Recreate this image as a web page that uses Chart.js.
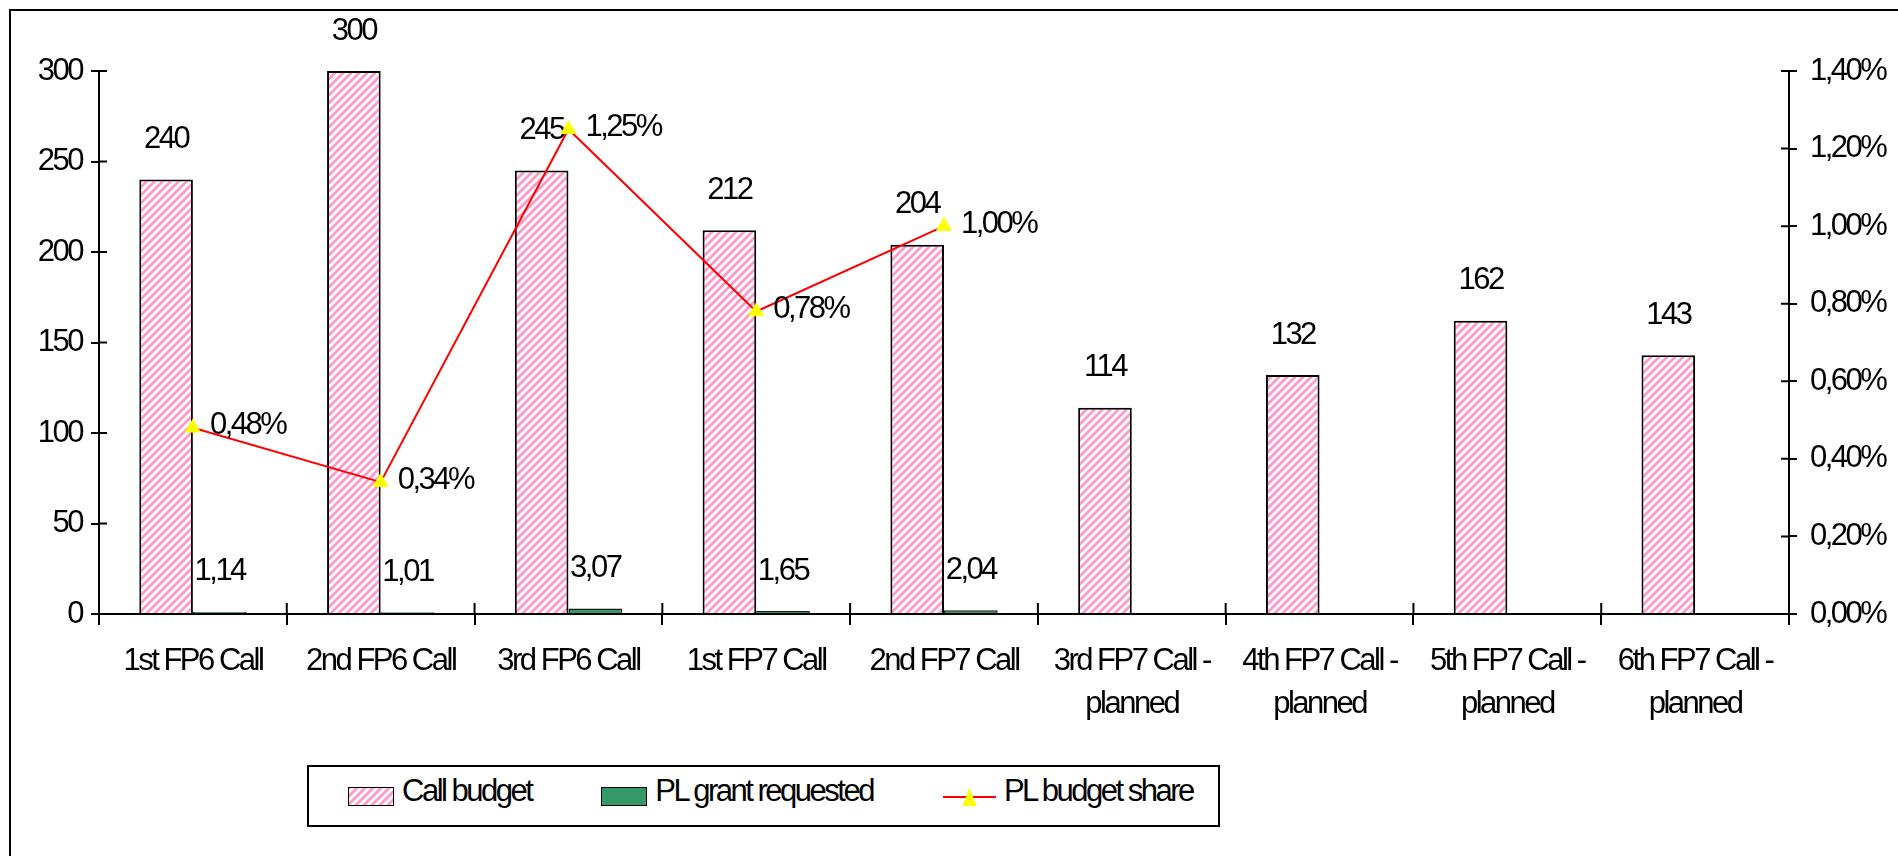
<!DOCTYPE html>
<html>
<head>
<meta charset="utf-8">
<title>Call budget and PL share</title>
<script src="https://cdn.jsdelivr.net/npm/chart.js@4/dist/chart.umd.min.js"></script>
<style>
  html, body { margin: 0; padding: 0; background: #fff; overflow: hidden; }
  #wrap { position: relative; width: 1898px; height: 856px; }
  #frame { position: absolute; left: 9px; top: 9px; width: 2000px; height: 1000px; border: 2px solid #000; }
  #chart { position: absolute; left: 0; top: 0; }
  #legend {
    position: absolute; left: 307px; top: 765px; width: 913px; height: 62px;
    box-sizing: border-box; border: 2px solid #000; background: #fff;
    display: flex; align-items: center; padding-left: 39px;
    font: 31px 'Liberation Sans', Arial, sans-serif; letter-spacing: -2.5px; color: #000;
  }
  .item { display: flex; align-items: center; margin-right: 70px; }
  .swatch { width: 46px; height: 19px; box-sizing: border-box; margin-right: 8px; }
  .swatch svg { display: block; }
  .item span { position: relative; top: -5px; white-space: nowrap; }
</style>
</head>
<body>
<div id="wrap">
  <div id="frame"></div>
  <canvas id="chart" width="1898" height="856"></canvas>
  <div id="legend"></div>
</div>
<script>
const categories = [
    '1st FP6 Call', '2nd FP6 Call', '3rd FP6 Call', '1st FP7 Call', '2nd FP7 Call',
    ['3rd FP7 Call -', 'planned'], ['4th FP7 Call -', 'planned'],
    ['5th FP7 Call -', 'planned'], ['6th FP7 Call -', 'planned']
];
const callBudget = [240, 300, 245, 212, 204, 114, 132, 162, 143];
const plGrantRequested = [1.14, 1.01, 3.07, 1.65, 2.04, null, null, null, null];
const plBudgetShare = [0.48, 0.34, 1.25, 0.78, 1.00, null, null, null, null];

const fontFamily = "'Liberation Sans', Arial, sans-serif";
const comma = (v, digits) => v.toFixed(digits).replace('.', ',');

// pink diagonal hatch used for the call budget bars
const tileSize = 8;
const tile = document.createElement('canvas');
tile.width = tileSize;
tile.height = tileSize;
const t = tile.getContext('2d');
t.fillStyle = '#ffffff';
t.fillRect(0, 0, tileSize, tileSize);
t.strokeStyle = '#ff99cc';
t.lineWidth = 2.8;
t.beginPath();
t.moveTo(-2, tileSize + 2); t.lineTo(tileSize + 2, -2);
t.moveTo(-2, 2); t.lineTo(2, -2);
t.moveTo(tileSize - 2, tileSize + 2); t.lineTo(tileSize + 2, tileSize - 2);
t.stroke();
const hatch = document.getElementById('chart').getContext('2d').createPattern(tile, 'repeat');

Chart.defaults.font.family = fontFamily;
Chart.defaults.font.size = 31;
Chart.defaults.color = '#000';

const tightText = {
    id: 'tightText',
    beforeUpdate(chart) { chart.ctx.letterSpacing = '-2.5px'; },
    beforeDraw(chart) { chart.ctx.letterSpacing = '-2.5px'; }
};

// tick marks cross the axes, chart.js only draws the outer half
const innerTicks = {
    id: 'innerTicks',
    beforeDatasetsDraw(chart) {
        const {ctx, chartArea, scales} = chart;
        ctx.save();
        ctx.strokeStyle = '#000';
        ctx.lineWidth = 2;
        ctx.beginPath();
        for (let i = 0; i <= categories.length; i++) {
            const px = scales.x.getPixelForValue(i - 0.5);
            ctx.moveTo(px, chartArea.bottom);
            ctx.lineTo(px, chartArea.bottom - 11);
        }
        scales.y.ticks.forEach(tk => {
            const py = scales.y.getPixelForValue(tk.value);
            ctx.moveTo(chartArea.left, py);
            ctx.lineTo(chartArea.left + 8, py);
        });
        scales.y1.ticks.forEach(tk => {
            const py = scales.y1.getPixelForValue(tk.value);
            ctx.moveTo(chartArea.right, py);
            ctx.lineTo(chartArea.right - 8, py);
        });
        ctx.stroke();
        ctx.restore();
    }
};

const drawLabels = (chart, wantLine) => {
    const ctx = chart.ctx;
    ctx.save();
    ctx.font = '31px ' + fontFamily;
    ctx.fillStyle = '#000';
    ctx.textBaseline = 'middle';
    chart.data.datasets.forEach((ds, di) => {
        if ((ds.type === 'line') !== wantLine) return;
        chart.getDatasetMeta(di).data.forEach((el, i) => {
            const v = ds.data[i];
            if (v === null) return;
            if (wantLine) {
                ctx.textAlign = 'left';
                ctx.fillText(comma(v, 2) + '%', el.x + 17, el.y - 2);
            } else {
                ctx.textAlign = 'center';
                ctx.fillText(ds.valueText(v), el.x, el.y - 40);
            }
        });
    });
    ctx.restore();
};

const valueLabels = {
    id: 'valueLabels',
    beforeDatasetsDraw(chart) { drawLabels(chart, false); },
    afterDatasetsDraw(chart) { drawLabels(chart, true); }
};

const chart = new Chart('chart', {
    data: {
        labels: categories,
        datasets: [
            {
                type: 'bar',
                label: 'Call budget',
                data: callBudget,
                valueText: v => String(v),
                backgroundColor: hatch,
                borderColor: '#000',
                borderWidth: 2,
                yAxisID: 'y',
                order: 2,
                categoryPercentage: 0.571,
                barPercentage: 1
            },
            {
                type: 'bar',
                label: 'PL grant requested',
                data: plGrantRequested,
                valueText: v => comma(v, 2),
                backgroundColor: '#339966',
                borderColor: '#1a1a1a',
                borderWidth: 1.5,
                yAxisID: 'y',
                order: 2,
                categoryPercentage: 0.571,
                barPercentage: 1
            },
            {
                type: 'line',
                label: 'PL budget share',
                data: plBudgetShare,
                yAxisID: 'y1',
                borderColor: '#ff0000',
                borderWidth: 2,
                pointStyle: 'triangle',
                pointRadius: 8.5,
                pointBackgroundColor: '#ffff00',
                pointBorderColor: '#ffff00',
                pointBorderWidth: 1,
                order: 0
            }
        ]
    },
    options: {
        responsive: false,
        animation: false,
        devicePixelRatio: 1,
        layout: { padding: { top: 71, bottom: 122, left: 0, right: 0 } },
        plugins: {
            legend: { display: false },
            tooltip: { enabled: false }
        },
        scales: {
            x: {
                grid: { drawOnChartArea: false, offset: true, tickLength: 11, color: '#000', lineWidth: 2 },
                border: { color: '#000', width: 2 },
                ticks: { padding: 15, maxRotation: 0, autoSkip: false, font: { size: 31, lineHeight: 1.39 } },
                afterFit(s) { s.height = 120; }
            },
            y: {
                position: 'left',
                min: 0,
                max: 300,
                ticks: { stepSize: 50, padding: 9 },
                grid: { drawOnChartArea: false, tickLength: 8, color: '#000', lineWidth: 2 },
                border: { color: '#000', width: 2 },
                afterFit(s) { s.width = 99; }
            },
            y1: {
                position: 'right',
                min: 0,
                max: 1.4,
                ticks: { stepSize: 0.2, padding: 13, callback: v => comma(v, 2) + '%' },
                grid: { drawOnChartArea: false, tickLength: 8, color: '#000', lineWidth: 2 },
                border: { color: '#000', width: 2 },
                afterFit(s) { s.width = 109; }
            }
        }
    },
    plugins: [tightText, innerTicks, valueLabels]
});

// legend drawn as html, built from the chart's datasets
const legendBox = document.getElementById('legend');
chart.data.datasets.forEach(ds => {
    const item = document.createElement('div');
    item.className = 'item';
    const sw = document.createElement('div');
    sw.className = 'swatch';
    if (ds.type === 'line') {
        sw.style.width = '53px';
        sw.innerHTML = '<svg width="53" height="19"><line x1="0" y1="10" x2="53" y2="10" stroke="' + ds.borderColor +
            '" stroke-width="2"/><polygon points="26.5,1 19.5,19 33.5,19" fill="' + ds.pointBackgroundColor + '"/></svg>';
    } else {
        sw.style.border = '1.5px solid #000';
        sw.style.background = ds.backgroundColor === hatch ? 'url(' + tile.toDataURL() + ')' : ds.backgroundColor;
    }
    const txt = document.createElement('span');
    txt.textContent = ds.label;
    item.appendChild(sw);
    item.appendChild(txt);
    legendBox.appendChild(item);
});
</script>
</body>
</html>
